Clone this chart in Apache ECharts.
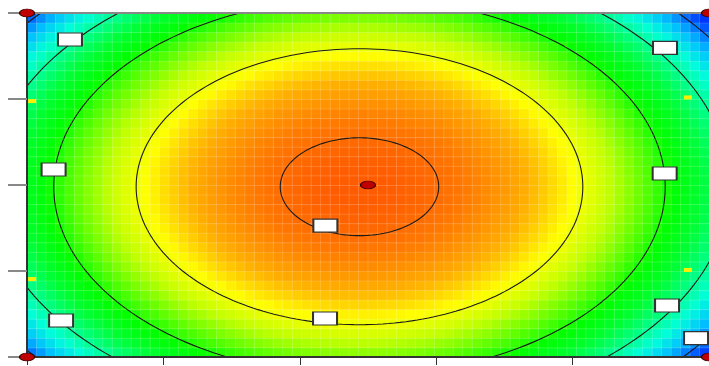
<!DOCTYPE html>
<html>
<head>
<meta charset="utf-8">
<script src="https://cdn.jsdelivr.net/npm/echarts@6/dist/echarts.min.js"></script>
<style>
  html, body { margin: 0; padding: 0; background: #fff; }
  #chart { width: 709px; height: 366px; }
</style>
</head>
<body>
<div id="chart"></div>
<script>
// fitted quadratic response surface
const modelCoef = [86.44, 26.67, 17.78]   // b0, b11 (x^2), b22 (y^2)
const modelCenter = [-0.025, -0.01]
const contourLevels = [85, 75, 65, 55, 45]
const gridCols = 72
const gridRows = 36

// colour ramp, one stop every 4 units from 40 to 96
const rampColors = [
  '#0010ff', '#0058ff', '#00c0ff', '#00ffd8', '#00ff80', '#00ff30', '#00ff00', '#60ff00',
  '#c0ff00', '#ffff00', '#ffb000', '#ff7800', '#ff4800', '#ff2000', '#ff0000',
]

// design points (red)
const designX = [-1, 1, -1, 1, 0]
const designY = [1, 1, -1, -1, 0]

// axial marks (yellow)
const markX = [-0.985, 0.938, -0.985, 0.938]
const markY = [0.488, 0.509, -0.547, -0.494]

// contour label boxes
const labelX = [-0.874, 0.871, -0.922, 0.870, -0.125, -0.126, -0.900, 0.877, 0.962]
const labelY = [0.846, 0.797, 0.090, 0.067, -0.236, -0.776, -0.788, -0.701, -0.890]

const surface = (x, y) =>
  modelCoef[0] -
  modelCoef[1] * (x - modelCenter[0]) ** 2 -
  modelCoef[2] * (y - modelCenter[1]) ** 2

const cellW = 2 / gridCols
const cellH = 2 / gridRows
const cells = []
for (let i = 0; i < gridCols; i++) {
  for (let j = 0; j < gridRows; j++) {
    const x = -1 + (i + 0.5) * cellW
    const y = -1 + (j + 0.5) * cellH
    cells.push([x, y, surface(x, y)])
  }
}

// level set of the surface: an ellipse
const contourPoints = (level) => {
  const r = Math.sqrt((modelCoef[0] - level) / modelCoef[1])
  const ry = r * Math.sqrt(modelCoef[1] / modelCoef[2])
  const pts = []
  for (let k = 0; k <= 240; k++) {
    const t = (k / 240) * Math.PI * 2
    pts.push([modelCenter[0] + r * Math.cos(t), modelCenter[1] + ry * Math.sin(t)])
  }
  return pts
}

const chart = echarts.init(document.getElementById('chart'))

const option = {
  animation: false,
  grid: { left: 27, right: 0, top: 13, bottom: 9 },
  visualMap: {
    show: false,
    type: 'continuous',
    min: 40,
    max: 96,
    dimension: 2,
    seriesIndex: 0,
    inRange: { color: rampColors },
  },
  xAxis: [
    {
      type: 'value',
      min: -1,
      max: 1,
      interval: 0.4,
      z: 10,
      axisLabel: { show: false },
      splitLine: { show: false },
      axisLine: { onZero: false, lineStyle: { color: '#333', width: 2 } },
      axisTick: { length: 8, lineStyle: { color: '#333', width: 1 } },
    },
    {
      type: 'value',
      position: 'top',
      min: -1,
      max: 1,
      z: 10,
      axisLabel: { show: false },
      splitLine: { show: false },
      axisTick: { show: false },
      axisLine: { onZero: false, lineStyle: { color: '#888', width: 2 } },
    },
  ],
  yAxis: {
    type: 'value',
    min: -1,
    max: 1,
    interval: 0.5,
    z: 10,
    axisLabel: { show: false },
    splitLine: { show: false },
    axisLine: { onZero: false, lineStyle: { color: '#333', width: 2 } },
    axisTick: { length: 19, lineStyle: { color: '#888', width: 2 } },
  },
  series: [
    {
      type: 'custom',
      z: 1,
      data: cells,
      encode: { x: 0, y: 1 },
      renderItem: (params, api) => {
        const c = api.coord([api.value(0), api.value(1)])
        const s = api.size([cellW, cellH])
        return {
          type: 'rect',
          shape: { x: c[0] - s[0] / 2, y: c[1] - s[1] / 2, width: s[0] + 0.5, height: s[1] + 0.5 },
          style: { fill: api.visual('color'), stroke: 'rgba(255,255,255,0.15)', lineWidth: 1 },
        }
      },
    },
    ...contourLevels.map((lv) => ({
      type: 'line',
      z: 3,
      data: contourPoints(lv),
      showSymbol: false,
      silent: true,
      lineStyle: { color: '#1a1a1a', width: 1.1 },
    })),
    {
      type: 'scatter',
      z: 5,
      clip: false,
      symbol: 'rect',
      symbolSize: [24, 13],
      data: labelX.map((x, i) => [x, labelY[i]]),
      itemStyle: { color: '#fff', borderColor: '#333', borderWidth: 1.5, opacity: 1 },
    },
    {
      type: 'scatter',
      z: 6,
      clip: false,
      symbol: 'rect',
      symbolSize: [8, 4],
      data: markX.map((x, i) => [x, markY[i]]),
      itemStyle: { color: '#ffee00', opacity: 1 },
    },
    {
      type: 'scatter',
      z: 12,
      clip: false,
      symbol: 'circle',
      symbolSize: [15, 8],
      data: designX.map((x, i) => [x, designY[i]]),
      itemStyle: { color: '#c00000', borderColor: '#300', borderWidth: 1, opacity: 1 },
    },
  ],
}

chart.setOption(option)
</script>
</body>
</html>
